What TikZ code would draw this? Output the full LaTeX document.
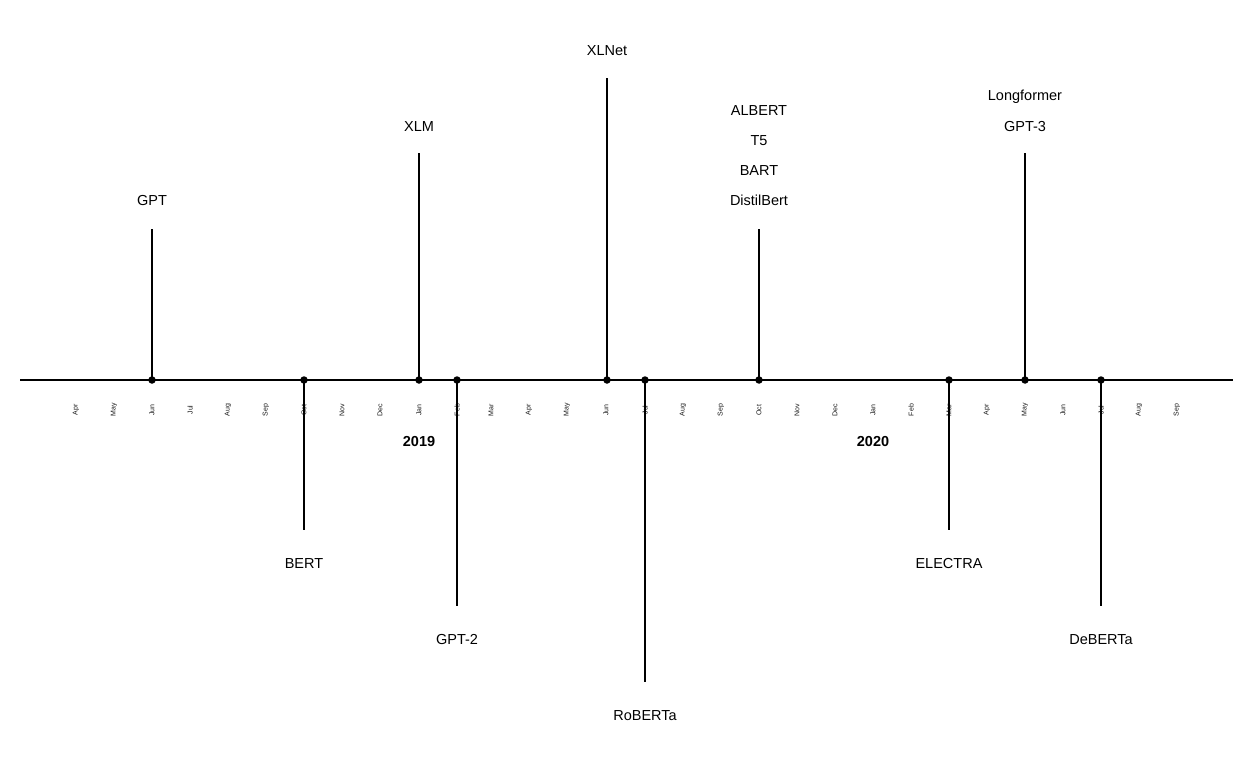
\documentclass[tikz,border=0pt]{standalone}
\usepackage{fontspec}
\setmainfont{Liberation Sans}
\begin{document}
\begin{tikzpicture}[x=1pt,y=-1pt,
  lbl/.style={font=\fontsize{14.5}{16}\selectfont, inner sep=0pt, anchor=center, yshift=-1.5pt},
  yr/.style={font=\fontsize{14.5}{16}\selectfont\bfseries, inner sep=0pt, yshift=-1pt},
  mon/.style={font=\fontsize{7}{8}\selectfont, text=black!90, rotate=90, inner sep=0pt},
  stem/.style={line width=1.1pt},
  dot/.style={circle, fill=black, inner sep=0pt, minimum size=7.5pt}]
\useasboundingbox (0,0) rectangle (1248,768);
\coordinate (L) at (20,380);
\coordinate (R) at (1233,380);
\draw[line width=1.1pt] (L) -- (R);
% months
\foreach \x/\m in {76/Apr,114/May,152/Jun,190/Jul,228/Aug,266/Sep,304/Oct,342/Nov,380/Dec,419/Jan,457/Feb,491/Mar,529/Apr,567/May,606/Jun,645/Jul,683/Aug,721/Sep,759/Oct,797/Nov,835/Dec,873/Jan,911/Feb,949/Mar,987/Apr,1025/May,1063/Jun,1101/Jul,1139/Aug,1177/Sep}
  \node[mon] at (\x,410) {\m};
\node[yr] (y2019) at (419,441) {2019};
\node[yr] (y2020) at (873,441) {2020};
% events
\foreach \n/\x/\e in {gpt/152/229, bert/304/530, xlm/419/153, gpttwo/457/606, xlnet/607/78, roberta/645/682, albert/759/229, electra/949/530, longformer/1025/153, deberta/1101/606}{
  \coordinate (\n-top) at (\x,\e);
  \node[dot] (\n-dot) at (\x,380) {};
  \draw[stem] (\n-dot.center) -- (\n-top);
}
\node[lbl] (gptL) at (152,199) {GPT};
\node[lbl] (bertL) at (304,562) {BERT};
\node[lbl] (xlmL) at (419,125) {XLM};
\node[lbl] (gpt2L) at (457,638) {GPT-2};
\node[lbl] (xlnetL) at (607,49) {XLNet};
\node[lbl] (robertaL) at (645,714) {RoBERTa};
\node[lbl] (albertL) at (759,109) {ALBERT};
\node[lbl] (t5L) at (759,139) {T5};
\node[lbl] (bartL) at (759,169) {BART};
\node[lbl] (distilL) at (759,199) {DistilBert};
\node[lbl] (electraL) at (949,562) {ELECTRA};
\node[lbl] (longL) at (1025,95) {Longformer};
\node[lbl] (gpt3L) at (1025,125) {GPT-3};
\node[lbl] (debertaL) at (1101,638) {DeBERTa};
\end{tikzpicture}
\end{document}
